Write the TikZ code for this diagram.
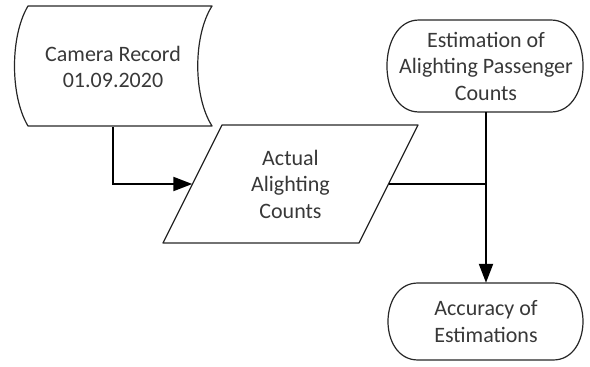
\documentclass[tikz,border=0pt]{standalone}
\usepackage{fontspec}
\setmainfont{Carlito}
\usetikzlibrary{arrows.meta}
\begin{document}
\begin{tikzpicture}[x=1pt,y=-1pt,
  lbl/.style={font=\fontsize{22}{26.5}\selectfont, text=black!78, align=center, inner sep=0pt},
  outline/.style={draw=black!85, line width=1.2pt, line join=round},
  conn/.style={draw=black, line width=2.1pt},
  tip/.style={-{Triangle[length=19pt,width=14pt]}}]
\useasboundingbox (0,0) rectangle (590,367);
% nodes (text holders)
\node[lbl, minimum width=184pt, minimum height=120pt] (cam) at (113,67) {Camera Record\\01.09.2020};
\node[lbl, minimum width=196pt, minimum height=118pt] (act) at (290.5,184) {Actual\\Alighting\\Counts};
\node[lbl, minimum width=196pt, minimum height=92pt] (est) at (486,66) {Estimation of\\Alighting Passenger\\Counts};
\node[lbl, minimum width=195pt, minimum height=77pt] (acc) at (486,321.5) {Accuracy of\\Estimations};
% outlines
\draw[outline] (28,6) -- (212,6) .. controls (193,36) and (193,96) .. (212,126)
  -- (28,126) .. controls (10,96) and (10,36) .. cycle;
\draw[outline] (222,125) -- (418,125) -- (359,243) -- (163,243) -- cycle;
\draw[outline] (419,20) -- (551,20) .. controls (593.7,20) and (593.7,112) .. (551,112)
  -- (419,112) .. controls (376.3,112) and (376.3,20) .. cycle;
\draw[outline] (418,283) -- (553,283) .. controls (593,283) and (593,360) .. (553,360)
  -- (418,360) .. controls (378,360) and (378,283) .. cycle;
% connectors
\draw[conn,tip] (cam.south) |- (act.west);
\draw[conn] (act.east) -- (act.east -| est.south);
\draw[conn,tip] (est.south) -- (acc.north);
\end{tikzpicture}
\end{document}
